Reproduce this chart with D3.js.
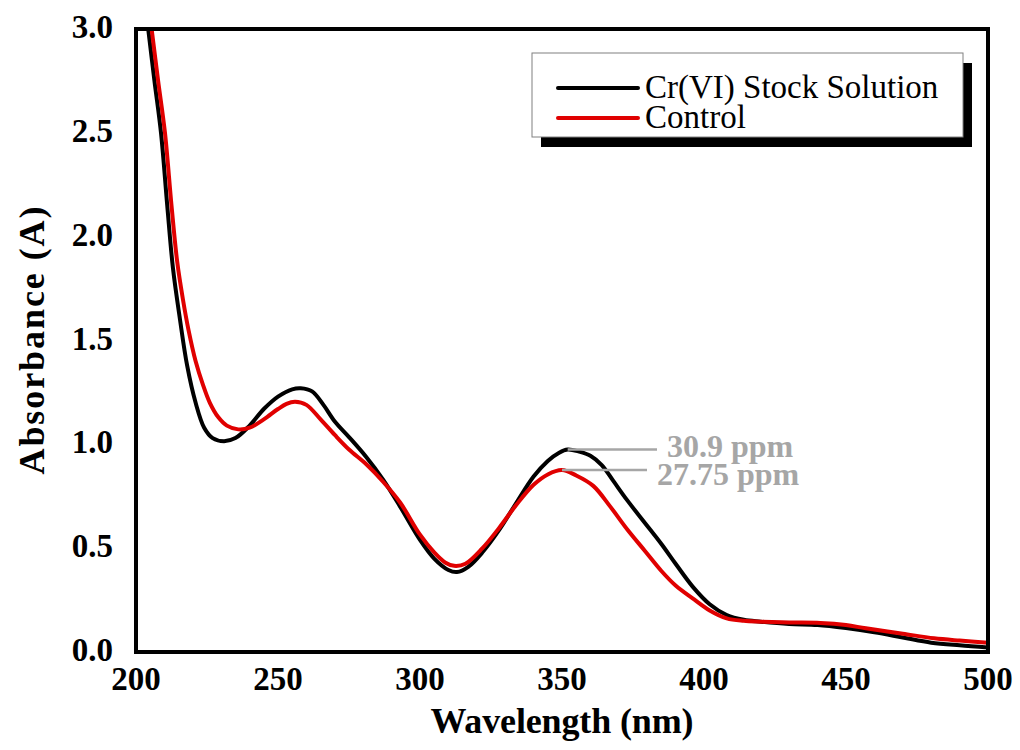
<!DOCTYPE html>
<html>
<head>
<meta charset="utf-8">
<script src="https://cdn.jsdelivr.net/npm/d3@7"></script>
<style>
  body { margin: 0; background: #fff; }
  text { font-family: "Liberation Serif", "Times New Roman", serif; }
</style>
</head>
<body>
<div id="chart"></div>
<script>
// Cr(VI) stock solution spectrum
const stockWl = [204.3, 206.5, 208.8, 211, 213, 215.5, 218, 221, 224, 227, 231, 235, 240, 245, 250, 255, 258, 262, 266, 270, 275, 281, 287, 293, 300, 305, 310, 313, 317, 322, 328, 334, 340, 345, 349, 352, 356, 360, 364, 368, 373, 379, 385, 390, 396, 402, 408, 414, 420, 430, 440, 450, 460, 470, 480, 490, 500];
const stockAbs = [3.0, 2.75, 2.5, 2.15, 1.85, 1.6, 1.38, 1.2, 1.08, 1.03, 1.015, 1.03, 1.09, 1.17, 1.23, 1.265, 1.27, 1.255, 1.19, 1.11, 1.035, 0.94, 0.83, 0.70, 0.54, 0.45, 0.395, 0.385, 0.41, 0.48, 0.59, 0.72, 0.845, 0.92, 0.96, 0.975, 0.965, 0.945, 0.9, 0.825, 0.73, 0.625, 0.52, 0.425, 0.315, 0.23, 0.178, 0.155, 0.146, 0.135, 0.13, 0.115, 0.095, 0.07, 0.045, 0.032, 0.022];

// Control spectrum
const controlWl = [205.5, 207.8, 210.2, 212.5, 214.5, 216.5, 218.5, 221, 223.5, 226, 229, 232, 236, 240, 245, 250, 253, 256, 260, 265, 270, 275, 281, 287, 293, 300, 305, 309, 312, 316, 322, 328, 334, 340, 345, 350, 355, 361, 367, 373, 379, 385, 390, 396, 402, 408, 414, 420, 430, 441, 450, 457, 470, 481, 490, 500];
const controlAbs = [3.0, 2.75, 2.5, 2.15, 1.88, 1.7, 1.55, 1.4, 1.29, 1.2, 1.13, 1.09, 1.072, 1.08, 1.12, 1.17, 1.195, 1.205, 1.19, 1.12, 1.045, 0.975, 0.905, 0.82, 0.72, 0.565, 0.48, 0.43, 0.415, 0.425, 0.5, 0.6, 0.71, 0.805, 0.855, 0.876, 0.85, 0.80, 0.70, 0.59, 0.49, 0.39, 0.32, 0.258, 0.2, 0.162, 0.15, 0.146, 0.142, 0.14, 0.13, 0.114, 0.088, 0.066, 0.055, 0.045];

const xTicks = [200, 250, 300, 350, 400, 450, 500];
const yTicks = [0, 0.5, 1.0, 1.5, 2.0, 2.5, 3.0];

const seriesNames = ["Cr(VI) Stock Solution", "Control"];
const seriesColors = ["#000000", "#e00000"];

// peak annotations: [wavelength, absorbance, label]
const peakLabels = [
  [352, 0.975, "30.9 ppm"],
  [350, 0.876, "27.75 ppm"]
];

const width = 1020, height = 750;
const margin = { top: 29, right: 32, bottom: 98, left: 136 };

const x = d3.scaleLinear().domain([200, 500]).range([margin.left, width - margin.right]);
const y = d3.scaleLinear().domain([0, 3]).range([height - margin.bottom, margin.top]);

const svg = d3.select("#chart").append("svg")
  .attr("width", width)
  .attr("height", height);

svg.append("defs").append("clipPath").attr("id", "plot")
  .append("rect")
  .attr("x", margin.left).attr("y", margin.top)
  .attr("width", x(500) - x(200)).attr("height", y(0) - y(3));

// tick labels
svg.append("g").selectAll("text")
  .data(xTicks).join("text")
  .attr("x", d => x(d))
  .attr("y", y(0) + 38)
  .attr("text-anchor", "middle")
  .attr("font-size", 33)
  .attr("font-weight", "bold")
  .text(d => d);

svg.append("g").selectAll("text")
  .data(yTicks).join("text")
  .attr("x", margin.left - 23)
  .attr("y", d => y(d) + 9)
  .attr("text-anchor", "end")
  .attr("font-size", 33)
  .attr("font-weight", "bold")
  .text(d => d3.format(".1f")(d));

// axis titles
svg.append("text")
  .attr("x", (x(200) + x(500)) / 2)
  .attr("y", 733)
  .attr("text-anchor", "middle")
  .attr("font-size", 36)
  .attr("font-weight", "bold")
  .attr("textLength", 263)
  .text("Wavelength (nm)");

svg.append("text")
  .attr("transform", `translate(44,${(y(0) + y(3)) / 2}) rotate(-90)`)
  .attr("text-anchor", "middle")
  .attr("font-size", 36)
  .attr("font-weight", "bold")
  .attr("textLength", 268)
  .text("Absorbance (A)");

// curves
const line = d3.line()
  .x(d => x(d[0]))
  .y(d => y(d[1]))
  .curve(d3.curveCatmullRom.alpha(0.5));

const series = [d3.zip(stockWl, stockAbs), d3.zip(controlWl, controlAbs)];

svg.append("g").attr("clip-path", "url(#plot)")
  .selectAll("path")
  .data(series).join("path")
  .attr("d", line)
  .attr("fill", "none")
  .attr("stroke", (d, i) => seriesColors[i])
  .attr("stroke-width", 4)
  .attr("stroke-linejoin", "round");

// peak leader lines + labels
const ann = svg.append("g");
const leaderEnd = [657, 647];
const labelDy = [7, 15];
peakLabels.forEach((p, i) => {
  const px = x(p[0]), py = y(p[1]);
  ann.append("line")
    .attr("x1", px).attr("y1", py)
    .attr("x2", leaderEnd[i]).attr("y2", py)
    .attr("stroke", "#a6a6a6")
    .attr("stroke-width", 2.5);
  ann.append("text")
    .attr("x", leaderEnd[i] + 10)
    .attr("y", py + labelDy[i])
    .attr("font-size", 32)
    .attr("font-weight", "bold")
    .attr("fill", "#a6a6a6")
    .text(p[2]);
});

// frame
svg.append("rect")
  .attr("x", x(200)).attr("y", y(3))
  .attr("width", x(500) - x(200)).attr("height", y(0) - y(3))
  .attr("fill", "none")
  .attr("stroke", "#000")
  .attr("stroke-width", 4);

// legend with drop shadow
const lg = svg.append("g").attr("transform", "translate(532,53)");
lg.append("rect")
  .attr("x", 9).attr("y", 10)
  .attr("width", 431).attr("height", 84)
  .attr("fill", "#000");
lg.append("rect")
  .attr("width", 431).attr("height", 84)
  .attr("fill", "#fff")
  .attr("stroke", "#808080")
  .attr("stroke-width", 1);

seriesNames.forEach((name, i) => {
  const ly = 35 + i * 30;
  lg.append("line")
    .attr("x1", 26).attr("x2", 106)
    .attr("y1", ly).attr("y2", ly)
    .attr("stroke", seriesColors[i])
    .attr("stroke-width", 4)
    .attr("stroke-linecap", "round");
  lg.append("text")
    .attr("x", 113)
    .attr("y", ly + 10)
    .attr("font-size", 33)
    .text(name);
});
</script>
</body>
</html>
